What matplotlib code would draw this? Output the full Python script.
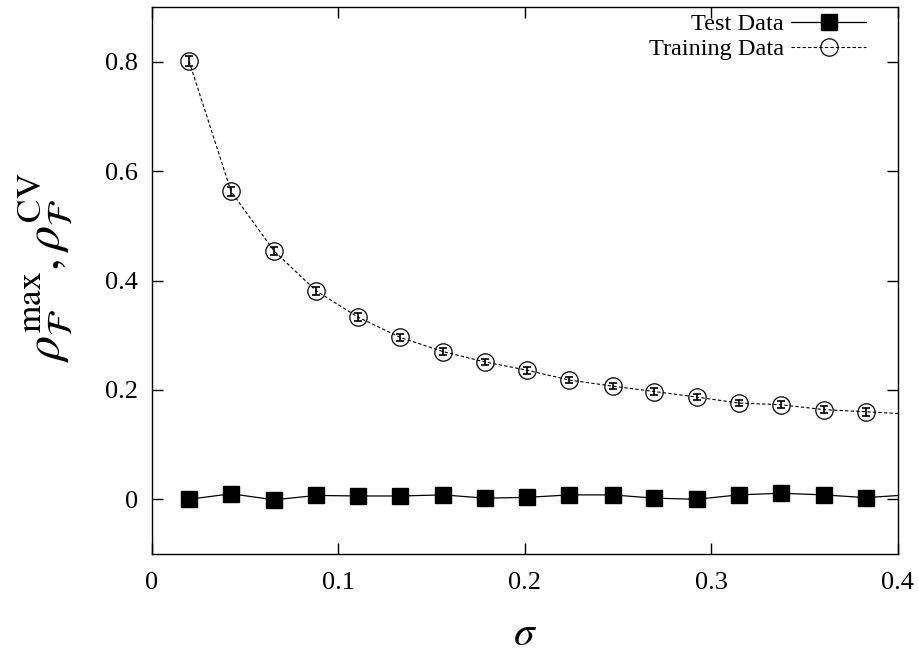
import numpy as np
import matplotlib.pyplot as plt

plt.rcParams['font.family'] = ['Liberation Serif', 'DejaVu Serif']
plt.rcParams['mathtext.fontset'] = 'stix'

# sigma values (last point lies just outside the x range and gets clipped)
sigma = [0.0199, 0.0424, 0.0655, 0.0881, 0.1106, 0.1332, 0.1562, 0.1788, 0.2013,
         0.2239, 0.2470, 0.2695, 0.2921, 0.3146, 0.3372, 0.3603, 0.3828, 0.4054]

test = [0.000, 0.010, -0.001, 0.007, 0.006, 0.006, 0.008, 0.002, 0.0035,
        0.008, 0.008, 0.002, 0.000, 0.008, 0.011, 0.008, 0.003, 0.008]

train = [0.801, 0.563, 0.454, 0.381, 0.333, 0.296, 0.270, 0.251, 0.236,
         0.218, 0.207, 0.197, 0.187, 0.176, 0.173, 0.164, 0.160, 0.156]
train_err = [0.009, 0.008, 0.007, 0.007, 0.007, 0.007, 0.006, 0.006, 0.006,
             0.006, 0.006, 0.006, 0.006, 0.006, 0.006, 0.006, 0.007, 0.006]

fig = plt.figure(figsize=(9.19, 6.54), dpi=100)
ax = fig.add_axes([0.1654, 0.153, 0.8115, 0.836])

ax.plot(sigma, test, color='black', lw=0.9, marker='s', ms=11.5,
        mfc='black', mec='black', label='Test Data')
ax.plot(sigma, train, color='black', lw=0.8, ls=(0, (3, 2)), marker='o', ms=12.5,
        mfc='none', mec='black', mew=0.9, label='Training Data')
ax.errorbar(sigma, train, yerr=train_err, fmt='none', ecolor='black',
            elinewidth=1.2, capsize=3, capthick=1.2)

ax.set_xlim(0, 0.4)
ax.set_ylim(-0.1, 0.9)
ax.set_xticks([0, 0.1, 0.2, 0.3, 0.4])
ax.set_xticklabels(['0', '0.1', '0.2', '0.3', '0.4'])
ax.set_yticks([0, 0.2, 0.4, 0.6, 0.8])
ax.set_yticklabels(['0', '0.2', '0.4', '0.6', '0.8'])
ax.tick_params(direction='in', length=8, width=1, top=True, right=True,
               labelsize=19)
ax.tick_params(axis='x', pad=13)
ax.tick_params(axis='y', pad=10)
for s in ax.spines.values():
    s.set_linewidth(1.0)

ax.set_xlabel(r'$\sigma$', fontsize=30, va='baseline')
ax.xaxis.set_label_coords(0.5, -0.166)
ax.set_ylabel(r'$\rho_{\mathcal{F}}^{\rm max}, \rho_{\mathcal{F}}^{\rm CV}$',
              fontsize=36)
ax.yaxis.set_label_coords(-0.103, 0.523)

ax.legend(loc='upper right', bbox_to_anchor=(0.958, 0.989), frameon=False,
          markerfirst=False, fontsize=17.5, handlelength=3.1, borderpad=0,
          borderaxespad=0, labelspacing=0.12, handletextpad=0.3)

fig.savefig('out.png', dpi=100)
